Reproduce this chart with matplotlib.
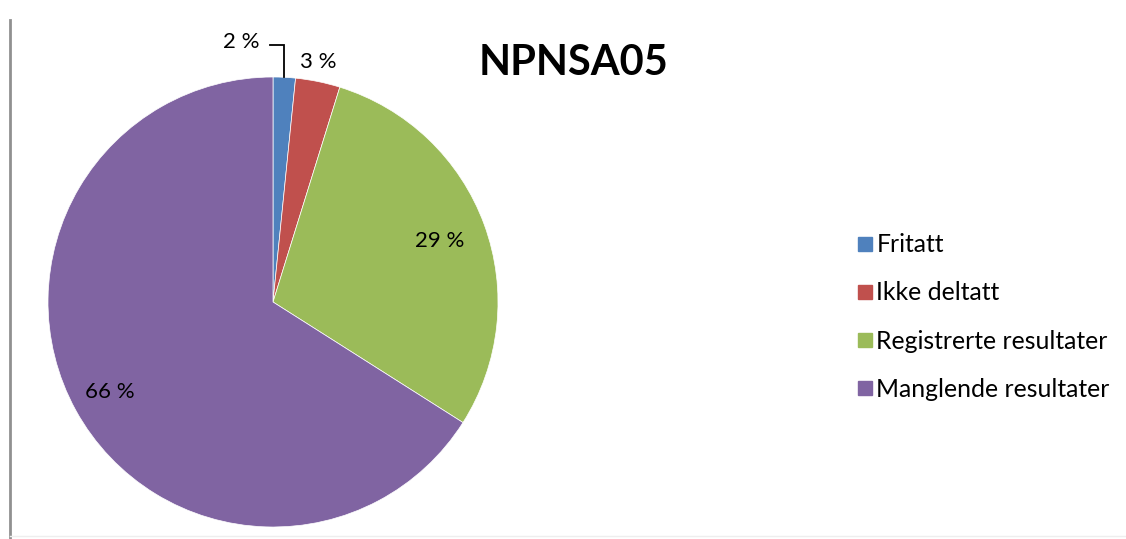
import matplotlib
matplotlib.use("Agg")
import matplotlib.pyplot as plt
import numpy as np
from matplotlib.lines import Line2D

categories = ["Fritatt", "Ikke deltatt", "Registrerte resultater", "Manglende resultater"]
values = [1.6, 3.2, 29.2, 66.0]
labels = ["2 %", "3 %", "29 %", "66 %"]
colors = ["#4F81BD", "#C0504D", "#9BBB59", "#8064A2"]
title = "NPNSA05"

plt.rcParams['font.family'] = ['Lato', 'DejaVu Sans']

W, H = 1126, 539
fig = plt.figure(figsize=(W / 100, H / 100), dpi=100)

# pie axes: center (273,302) px, radius 225 px
cx, cy, r = 273, 302, 225
ax = fig.add_axes([(cx - r) / W, (H - cy - r) / H, 2 * r / W, 2 * r / H])
wedges, _ = ax.pie(values, colors=colors, startangle=90, counterclock=False,
                   radius=1, wedgeprops=dict(linewidth=0.5, edgecolor='white'))
ax.set_xlim(-1, 1)
ax.set_ylim(-1, 1)
ax.set_aspect('equal')
ax.axis('off')

# labels for large slices at mid-angles
for w, lab, dist in zip(wedges[2:], labels[2:], [0.79, 0.83]):
    ang = np.deg2rad((w.theta1 + w.theta2) / 2)
    ax.text(dist * np.cos(ang), dist * np.sin(ang), lab, ha='center', va='center',
            fontsize=16, color='black')

# small slices labels
ang0 = np.deg2rad((wedges[0].theta1 + wedges[0].theta2) / 2)
x0 = np.cos(ang0)
ax.text(-0.14, 1.156, labels[0], ha='center', va='center', fontsize=16, clip_on=False)
ax.plot([-0.013, x0, x0], [1.142, 1.142, np.sin(ang0)], color='black', lw=1.3,
        clip_on=False, solid_joinstyle='miter')
ax.text(0.2, 1.067, labels[1], ha='center', va='center', fontsize=16, clip_on=False)

# title
fig.text(573 / W, 1 - 63 / H, title, ha='center', va='center', fontsize=30,
         fontweight='bold', color='black')

# legend
handles = [Line2D([0], [0], marker='s', linestyle='none', markersize=10,
                  markerfacecolor=c, markeredgecolor=c) for c in colors]
leg = fig.legend(handles, categories, loc='center left',
                 bbox_to_anchor=(848 / W, 1 - 317 / H), frameon=False,
                 fontsize=17.8, handlelength=0.55, handletextpad=0.2,
                 labelspacing=1.02, borderaxespad=0)

# left border line and bottom faint line
fig.add_artist(Line2D([10 / W, 10 / W], [0, 1 - 20 / H], transform=fig.transFigure,
                      color='#909090', lw=2))
fig.add_artist(Line2D([10 / W, 1], [1 - 536 / H, 1 - 536 / H], transform=fig.transFigure,
                      color='#eeeeee', lw=1))

fig.savefig("out.png", dpi=100)
